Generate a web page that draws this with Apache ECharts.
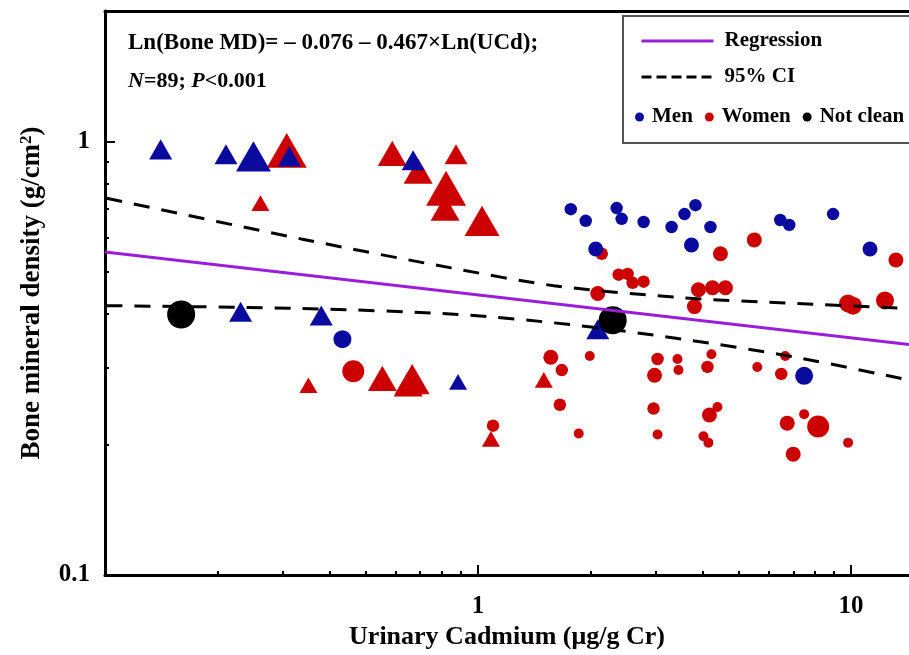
<!DOCTYPE html>
<html>
<head>
<meta charset="utf-8">
<script src="https://cdn.jsdelivr.net/npm/echarts@6/dist/echarts.min.js"></script>
<style>
  html, body { margin: 0; padding: 0; background: #fff; }
  #chart { width: 909px; height: 655px; }
</style>
</head>
<body>
<div id="chart"></div>
<script>
  // [UCd, bone MD, size grade]
  const womenTri = [[0.307,0.954,5],[0.261,0.721,1],[0.589,0.939,3],[0.691,0.854,3],[0.873,0.934,2],
    [0.821,0.780,5],[0.816,0.702,3],[1.025,0.656,4],[0.554,0.284,3],[0.666,0.283,4],[0.650,0.276,3],
    [0.351,0.274,1],[1.083,0.206,1],[1.501,0.282,1]];
  const womenCirc = [[0.463,0.295,5],[1.097,0.221,2],[2.146,0.551,2],[2.382,0.493,2],[2.518,0.495,2],
    [2.597,0.472,2],[2.779,0.475,2],[2.094,0.446,3],[3.803,0.416,3],[3.898,0.455,3],[4.25,0.460,3],
    [4.605,0.460,3],[4.465,0.551,3],[5.503,0.593,3],[13.19,0.533,3],[9.817,0.423,4],[10.12,0.418,4],
    [12.33,0.430,4],[1.567,0.318,3],[1.677,0.297,2],[1.993,0.320,1],[3.029,0.315,2],[2.973,0.289,3],
    [3.425,0.315,1],[3.446,0.297,1],[4.121,0.302,2],[4.224,0.323,1],[1.657,0.247,2],[2.955,0.242,2],
    [4.172,0.234,3],[4.383,0.244,1],[1.862,0.212,1],[3.029,0.211,1],[4.021,0.209,1],[4.146,0.202,1],
    [5.606,0.302,1],[6.66,0.320,1],[6.499,0.291,2],[6.744,0.224,3],[7.486,0.235,1],[8.163,0.220,5],
    [9.817,0.202,1],[6.997,0.190,3]];
  const menTri = [[0.141,0.959,2],[0.211,0.934,2],[0.250,0.924,4],[0.312,0.924,2],[0.231,0.405,2],
    [0.380,0.397,2],[0.670,0.905,2],[0.884,0.279,1],[2.094,0.369,2]];
  const menCirc = [[0.433,0.350,4],[1.773,0.698,2],[1.944,0.656,2],[2.353,0.702,2],[2.427,0.663,2],
    [2.779,0.652,2],[3.302,0.635,2],[3.577,0.680,2],[3.827,0.713,2],[4.198,0.635,2],[3.734,0.577,3],
    [2.068,0.565,3],[6.459,0.659,2],[6.828,0.642,2],[8.951,0.680,2],[11.24,0.565,3],[7.486,0.288,4]];
  const notClean = [[0.160,0.399,6],[2.296,0.387,6]];

  const regression = [[0.1,0.556],[14.3,0.340]];
  const ciUpper = [[0.101,0.740],[0.336,0.596],[0.847,0.511],[1.597,0.465],[3.555,0.436],[7.17,0.423],[14.3,0.412]];
  const ciLower = [[0.101,0.418],[0.336,0.412],[0.884,0.399],[1.773,0.378],[3.53,0.350],[7.085,0.318],[14.3,0.2815]];

  const xMajorTicks = [1, 10];
  const xMinorTicks = [0.2,0.3,0.4,0.5,0.6,0.7,0.8,0.9,2,3,4,5,6,7,8,9];
  const yMajorTicks = [0.1, 1];
  const yMinorTicks = [0.2,0.3,0.4,0.5,0.6,0.7,0.8,0.9];

  const FONT = '"Times New Roman", "Liberation Serif", serif';
  const BLUE = '#0a0a9e', RED = '#cc0000', PURPLE = '#9a1ed8';
  const circSize = [10, 12.5, 15, 18, 22, 28];
  const triSize = [18, 23, 29, 35, 40];

  let myChart = echarts.init(document.getElementById('chart'));

  function logAxis(extra) {
    return Object.assign({
      type: 'log', logBase: 10, gridIndex: 0,
      splitLine: {show: false}, minorTick: {show: false}, minorSplitLine: {show: false}
    }, extra);
  }

  function triSeries(name, data, color) {
    return {
      name: name, type: 'scatter', symbol: 'triangle', data: data,
      symbolSize: function (v) { let s = triSize[v[2] - 1]; return [s, s * 0.87]; },
      itemStyle: {color: color, opacity: 1}, z: 2
    };
  }
  function circSeries(name, data, color) {
    return {
      name: name, type: 'scatter', symbol: 'circle', data: data,
      symbolSize: function (v) { return circSize[v[2] - 1]; },
      itemStyle: {color: color, opacity: 1}, z: 2
    };
  }

  let option = {
    animation: false,
    backgroundColor: '#fff',
    grid: {left: 105, top: 11, right: 0, bottom: 76},
    title: [
      {text: 'Ln(Bone MD)= – 0.076 – 0.467×Ln(UCd);', left: 128, top: 30, padding: 0,
        textStyle: {fontFamily: FONT, fontWeight: 'bold', fontSize: 23, lineHeight: 27, color: '#000'}},
      {text: '{i|N}=89; {i|P}<0.001', left: 128, top: 68, padding: 0,
        textStyle: {fontFamily: FONT, fontWeight: 'bold', fontSize: 22, lineHeight: 27, color: '#000',
          rich: {i: {fontFamily: FONT, fontWeight: 'bold', fontStyle: 'italic', fontSize: 22, color: '#000'}}}}
    ],
    graphic: [
      {type: 'rect', left: 622, top: 15, z: 1, shape: {width: 320, height: 127},
        style: {fill: '#fff', stroke: '#555', lineWidth: 2}}
    ],
    legend: [
      {data: [
          {name: 'Regression', itemStyle: {opacity: 0}, lineStyle: {width: 3}},
          {name: '95% CI', itemStyle: {opacity: 0}, lineStyle: {type: [10, 5], width: 3}}
        ],
        orient: 'vertical', left: 640, top: 30, padding: 0,
        itemWidth: 72, itemHeight: 14, itemGap: 14, selectedMode: false,
        textStyle: {fontFamily: FONT, fontWeight: 'bold', fontSize: 21, lineHeight: 22, color: '#000', padding: [0, 0, 0, 6]}},
      {data: ['Men', 'Women', 'Not clean'], orient: 'horizontal', left: 635, top: 106, padding: 0,
        icon: 'circle', itemWidth: 9, itemHeight: 9, itemGap: 12, selectedMode: false,
        textStyle: {fontFamily: FONT, fontWeight: 'bold', fontSize: 21, lineHeight: 22, color: '#000', padding: [0, 0, 0, 3]}}
    ],
    xAxis: [
      logAxis({
        min: 0.1, max: 14.3, position: 'bottom',
        name: 'Urinary Cadmium (μg/g Cr)', nameLocation: 'middle', nameGap: 49,
        nameTextStyle: {fontFamily: FONT, fontWeight: 'bold', fontSize: 26, color: '#000'},
        axisLine: {show: true, lineStyle: {color: '#000', width: 3}},
        axisTick: {show: true, inside: true, length: 10, lineStyle: {color: '#000', width: 2}, customValues: xMajorTicks},
        axisLabel: {customValues: xMajorTicks, margin: 19, fontFamily: FONT, fontWeight: 'bold', fontSize: 25, color: '#000'}
      }),
      logAxis({
        min: 0.1, max: 14.3, position: 'bottom',
        axisLine: {show: false},
        axisTick: {show: true, inside: true, length: 4, lineStyle: {color: '#000', width: 2}, customValues: xMinorTicks},
        axisLabel: {show: false}
      }),
      logAxis({
        min: 0.1, max: 14.3, position: 'top',
        axisLine: {show: true, lineStyle: {color: '#000', width: 3}},
        axisTick: {show: false}, axisLabel: {show: false}
      })
    ],
    yAxis: [
      logAxis({
        min: 0.1, max: 2, position: 'left',
        name: 'Bone mineral density (g/cm{sup|2})', nameLocation: 'middle', nameGap: 58,
        nameTextStyle: {fontFamily: FONT, fontWeight: 'bold', fontSize: 27, color: '#000',
          rich: {sup: {fontFamily: FONT, fontWeight: 'bold', fontSize: 17, color: '#000', verticalAlign: 'top', padding: [0, 0, 12, 0]}}},
        axisLine: {show: true, lineStyle: {color: '#000', width: 3}},
        axisTick: {show: true, inside: true, length: 10, lineStyle: {color: '#000', width: 2}, customValues: yMajorTicks},
        axisLabel: {customValues: yMajorTicks, margin: 15, fontFamily: FONT, fontWeight: 'bold', fontSize: 25, color: '#000'}
      }),
      logAxis({
        min: 0.1, max: 2, position: 'left',
        axisLine: {show: false},
        axisTick: {show: true, inside: true, length: 4, lineStyle: {color: '#000', width: 2}, customValues: yMinorTicks},
        axisLabel: {show: false}
      })
    ],
    series: [
      triSeries('Women', womenTri, RED),
      circSeries('Women', womenCirc, RED),
      triSeries('Men', menTri, BLUE),
      circSeries('Men', menCirc, BLUE),
      circSeries('Not clean', notClean, '#000'),
      {name: 'Regression', type: 'line', data: regression, symbol: 'none', z: 3,
        itemStyle: {color: PURPLE}, lineStyle: {color: PURPLE, width: 3}},
      {name: '95% CI', type: 'line', data: ciUpper, symbol: 'none', smooth: 0.3, z: 3,
        itemStyle: {color: '#000'}, lineStyle: {color: '#000', width: 3, type: [16, 12]}},
      {name: '95% CI', type: 'line', data: ciLower, symbol: 'none', smooth: 0.3, z: 3,
        itemStyle: {color: '#000'}, lineStyle: {color: '#000', width: 3, type: [16, 12]}}
    ]
  };
  myChart.setOption(option);
  window.addEventListener('resize', function () { myChart.resize(); });
</script>
</body>
</html>
